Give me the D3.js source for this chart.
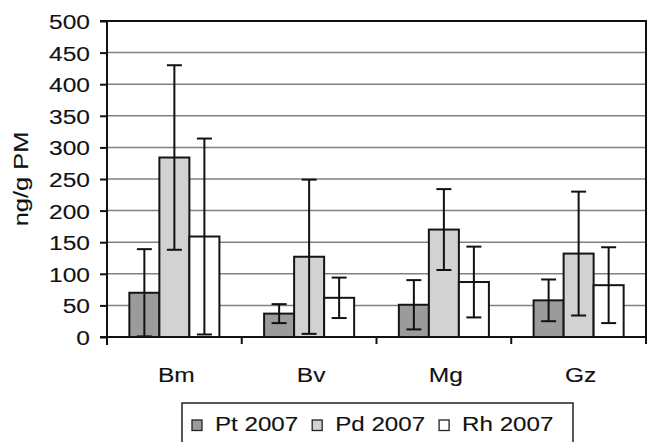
<!DOCTYPE html>
<html><head><meta charset="utf-8">
<script src="https://cdn.jsdelivr.net/npm/d3@7"></script>
<style>body{margin:0;background:#fff}svg{display:block}text{font-family:"Liberation Sans",Arial,sans-serif;fill:#111;stroke:#111;stroke-width:0.12px}</style>
</head><body><svg id="c" width="649" height="442"></svg>
<script>
const categories = ["Bm", "Bv", "Mg", "Gz"];
const seriesNames = ["Pt 2007", "Pd 2007", "Rh 2007"];
const ptValues = [70, 37, 51, 58];
const pdValues = [284, 127, 170, 132];
const rhValues = [159, 62, 87, 82];
const ptErr = [69, 15, 39, 33];
const pdErr = [146, 122, 64, 98];
const rhErr = [155, 32, 56, 60];
const yTicks = [0, 50, 100, 150, 200, 250, 300, 350, 400, 450, 500];
const yLabel = "ng/g PM";
const colors = ["#9b9b9b", "#d2d2d2", "#ffffff"];

const series = [ptValues, pdValues, rhValues];
const errs = [ptErr, pdErr, rhErr];
const svg = d3.select("#c");
const m = {l:107, r:646, t:21, b:337};
const sx = 1.17;
const fs = "21px";

const x0 = d3.scaleBand().domain(categories).range([m.l, m.r]).paddingInner(0).paddingOuter(0);
const x1 = d3.scaleBand().domain(seriesNames).range([0, x0.bandwidth()]).paddingInner(0).paddingOuter(0.745);
const y = d3.scaleLinear().domain([0, 500]).range([m.b, m.t]);

// gridlines
svg.append("g").selectAll("line").data(yTicks.filter(v => v > 0 && v < 500)).join("line")
  .attr("x1", m.l).attr("x2", m.r).attr("y1", d => y(d)).attr("y2", d => y(d))
  .attr("stroke", "#808080").attr("stroke-width", 1.5);

// top & right border
svg.append("path").attr("d", `M${m.l},${y(500)}H${m.r}V${m.b + 7}`)
  .attr("fill", "none").attr("stroke", "#111").attr("stroke-width", 2);

// bars
const rows = [];
categories.forEach((c, i) => seriesNames.forEach((s, j) => rows.push({c, s, j, v: series[j][i], e: errs[j][i]})));
svg.append("g").selectAll("rect").data(rows).join("rect")
  .attr("x", d => x0(d.c) + x1(d.s)).attr("width", x1.bandwidth())
  .attr("y", d => y(d.v)).attr("height", d => y(0) - y(d.v))
  .attr("fill", d => colors[d.j]).attr("stroke", "#151515").attr("stroke-width", 2);

// error bars
const eg = svg.append("g").attr("stroke", "#111").attr("stroke-width", 2);
rows.forEach(d => {
  const cx = x0(d.c) + x1(d.s) + x1.bandwidth() / 2;
  const hi = y(d.v + d.e), lo = y(Math.max(0, d.v - d.e));
  eg.append("line").attr("x1", cx).attr("x2", cx).attr("y1", hi).attr("y2", lo);
  eg.append("line").attr("x1", cx - 7.5).attr("x2", cx + 7.5).attr("y1", hi).attr("y2", hi);
  eg.append("line").attr("x1", cx - 7.5).attr("x2", cx + 7.5).attr("y1", lo).attr("y2", lo);
});

// y axis
const ya = svg.append("g").attr("transform", `translate(${m.l},0)`)
  .call(d3.axisLeft(y).tickValues(yTicks).tickSize(7).tickPadding(10));
ya.select(".domain").attr("stroke", "#111").attr("stroke-width", 2).attr("d", `M-7,${m.t}H0V${m.b + 8}`);
ya.selectAll(".tick line").attr("stroke", "#111").attr("stroke-width", 2);
ya.selectAll(".tick text").attr("x", 0).attr("dy", "0.36em")
  .attr("transform", `translate(-17,0) scale(${sx},1)`)
  .style("font-size", fs).style("font-family", '"Liberation Sans",Arial,sans-serif').attr("fill", "#111");

// x axis
const xa = svg.append("g");
xa.append("line").attr("x1", m.l - 7).attr("x2", m.r).attr("y1", m.b).attr("y2", m.b).attr("stroke", "#111").attr("stroke-width", 2);
const bounds = categories.map(c => x0(c)).concat([x0(categories[categories.length - 1]) + x0.bandwidth()]);
xa.selectAll("line.tk").data(bounds).join("line").attr("class", "tk")
  .attr("x1", d => d).attr("x2", d => d).attr("y1", m.b).attr("y2", m.b + 7)
  .attr("stroke", "#111").attr("stroke-width", 2);
xa.selectAll("text").data(categories).join("text")
  .attr("transform", d => `translate(${x0(d) + x0.bandwidth() / 2 + 2},381.5) scale(${sx},1)`)
  .attr("text-anchor", "middle").style("font-size", fs).text(d => d);

// y label
svg.append("text").attr("transform", `translate(27.5,179) rotate(-90) scale(1.21,1)`)
  .attr("text-anchor", "middle").style("font-size", fs).text(yLabel);

// legend
const lg = svg.append("g");
lg.append("rect").attr("x", 182).attr("y", 403).attr("width", 391).attr("height", 60)
  .attr("fill", "#fff").attr("stroke", "#222").attr("stroke-width", 1.5);
let lx = 192;
seriesNames.forEach((s, j) => {
  lg.append("rect").attr("x", lx).attr("y", 420).attr("width", 10).attr("height", 10.5)
    .attr("fill", colors[j]).attr("stroke", "#222").attr("stroke-width", 1.3);
  const t = lg.append("text").attr("transform", `translate(${lx + 23},431) scale(1.15,1)`)
    .style("font-size", fs).text(s);
  const w = t.node().getComputedTextLength() * 1.15;
  lx = lx + 23 + w + 14;
});
</script></body></html>
